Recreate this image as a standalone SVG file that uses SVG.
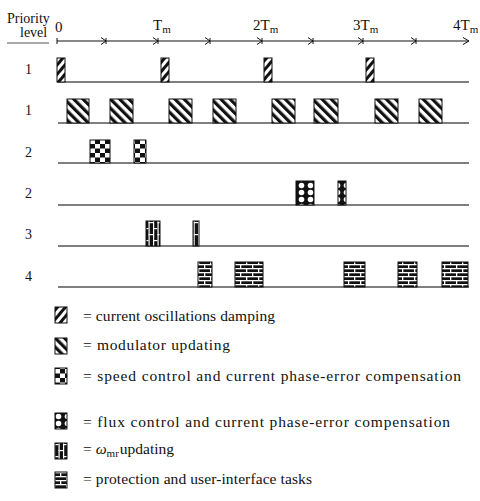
<svg xmlns="http://www.w3.org/2000/svg" width="480" height="501" viewBox="0 0 480 501">
<style>
text{font-family:"Liberation Serif","Times New Roman",serif;fill:#111}
.lbl{font-size:14px}
.leg{font-size:15.5px}
.ax{font-size:15px}
.sub{font-size:11px}
.base{stroke:#555;stroke-width:1.3;fill:none}
.tick{stroke:#111;stroke-width:1;fill:none}
.bar{stroke:#111;stroke-width:1}
</style>
<defs>
<pattern id="pDamp" patternUnits="userSpaceOnUse" width="6" height="6" patternTransform="rotate(40)">
<rect width="6" height="6" fill="#fff"/><rect width="3" height="6" fill="#111"/>
</pattern>
<pattern id="pMod" patternUnits="userSpaceOnUse" width="6.5" height="6.5" patternTransform="rotate(-45)">
<rect width="6.5" height="6.5" fill="#fff"/><rect width="3.2" height="6.5" fill="#111"/>
</pattern>
<pattern id="pSpeed" patternUnits="userSpaceOnUse" width="10" height="9">
<rect width="10" height="9" fill="#fff"/><rect width="5" height="4.5" fill="#111"/><rect x="5" y="4.5" width="5" height="4.5" fill="#111"/>
</pattern>
<pattern id="pFlux" patternUnits="userSpaceOnUse" width="9" height="7">
<rect width="9" height="7" fill="#111"/><circle cx="4.5" cy="3.5" r="2.8" fill="#fff"/>
</pattern>
<pattern id="pOmega" patternUnits="userSpaceOnUse" width="9" height="12">
<rect width="9" height="12" fill="#111"/>
<rect x="0" y="0" width="1.2" height="12" fill="#fff"/><rect x="4.5" y="0" width="1.2" height="12" fill="#fff"/>
<rect x="0" y="0" width="4.5" height="1.2" fill="#fff"/><rect x="4.5" y="6" width="4.5" height="1.2" fill="#fff"/>
</pattern>
<pattern id="pProt" patternUnits="userSpaceOnUse" width="12" height="8">
<rect width="12" height="8" fill="#111"/>
<rect x="0" y="0" width="12" height="1.3" fill="#fff"/><rect x="0" y="4" width="12" height="1.3" fill="#fff"/>
<rect x="0" y="0" width="1.3" height="4" fill="#fff"/><rect x="6" y="4" width="1.3" height="4" fill="#fff"/>
</pattern>
</defs>

<g id="header">
<text class="lbl" x="7" y="23">Priority</text>
<text class="lbl" x="20" y="37">level</text>
<line x1="7" y1="43" x2="49" y2="43" stroke="#555" stroke-width="1"/>
</g>

<g id="axis">
<line x1="57" y1="41" x2="469" y2="41" class="tick"/>
<line x1="57" y1="38" x2="57" y2="44" class="tick"/>
<g class="tick">
<path d="M101,37.5 L106,41 L101,44.5 M106,38 V44"/>
<path d="M153,37.5 L158,41 L153,44.5 M158,38 V44"/>
<path d="M205,37.5 L210,41 L205,44.5 M210,38 V44"/>
<path d="M257,37.5 L262,41 L257,44.5 M262,38 V44"/>
<path d="M308,37.5 L313,41 L308,44.5 M313,38 V44"/>
<path d="M358,37.5 L363,41 L358,44.5 M363,38 V44"/>
<path d="M411,37.5 L416,41 L411,44.5 M416,38 V44"/>
<path d="M463,37.5 L469,41 L463,44.5"/>
</g>
<text class="ax" x="55" y="32">0</text>
<text class="ax" x="153" y="30">T<tspan class="sub" dy="3">m</tspan></text>
<text class="ax" x="253" y="30">2T<tspan class="sub" dy="3">m</tspan></text>
<text class="ax" x="353" y="30">3T<tspan class="sub" dy="3">m</tspan></text>
<text class="ax" x="453" y="30">4T<tspan class="sub" dy="3">m</tspan></text>
</g>

<g id="row1">
<text class="lbl" x="25" y="74">1</text>
<line class="base" x1="57" y1="82" x2="469" y2="82"/>
<g fill="url(#pDamp)" class="bar">
<rect x="57" y="58" width="8" height="24"/>
<rect x="161" y="58" width="8" height="24"/>
<rect x="264" y="58" width="8" height="24"/>
<rect x="366" y="58" width="8" height="24"/>
</g>
</g>

<g id="row2">
<text class="lbl" x="25" y="115">1</text>
<line class="base" x1="58" y1="123" x2="469" y2="123"/>
<g fill="url(#pMod)" class="bar">
<rect x="67" y="99" width="22" height="24"/>
<rect x="110" y="99" width="23" height="24"/>
<rect x="169" y="99" width="23" height="24"/>
<rect x="213" y="99" width="23" height="24"/>
<rect x="272" y="99" width="23" height="24"/>
<rect x="314" y="99" width="24" height="24"/>
<rect x="375" y="99" width="23" height="24"/>
<rect x="419" y="99" width="23" height="24"/>
</g>
</g>

<g id="row3">
<text class="lbl" x="25" y="157">2</text>
<line class="base" x1="58" y1="163" x2="469" y2="163"/>
<g fill="url(#pSpeed)" class="bar">
<rect x="90" y="140" width="20" height="23"/>
<rect x="134" y="140" width="12" height="23"/>
</g>
</g>

<g id="row4">
<text class="lbl" x="25" y="198">2</text>
<line class="base" x1="58" y1="205" x2="469" y2="205"/>
<g fill="url(#pFlux)" class="bar">
<rect x="296" y="181" width="18" height="24"/>
<rect x="338" y="181" width="8" height="24"/>
</g>
</g>

<g id="row5">
<text class="lbl" x="25" y="239">3</text>
<line class="base" x1="58" y1="246" x2="469" y2="246"/>
<g fill="url(#pOmega)" class="bar">
<rect x="146" y="221" width="14" height="25"/>
<rect x="193" y="221" width="6" height="25"/>
</g>
</g>

<g id="row6">
<text class="lbl" x="25" y="281">4</text>
<line class="base" x1="58" y1="287" x2="469" y2="287"/>
<g fill="url(#pProt)" class="bar">
<rect x="198" y="262" width="14" height="25"/>
<rect x="235" y="262" width="28" height="25"/>
<rect x="344" y="262" width="21" height="25"/>
<rect x="398" y="262" width="19" height="25"/>
<rect x="442" y="262" width="26" height="25"/>
</g>
</g>

<g id="legend">
<g id="leg1"><rect class="bar" x="55" y="307" width="12" height="16" fill="url(#pDamp)"/><text class="leg" x="83" y="321" textLength="192" lengthAdjust="spacing">= current oscillations damping</text></g>
<g id="leg2"><rect class="bar" x="55" y="338" width="12" height="16" fill="url(#pMod)"/><text class="leg" x="83" y="350" textLength="147" lengthAdjust="spacing">= modulator updating</text></g>
<g id="leg3"><rect class="bar" x="55" y="368" width="12" height="16" fill="url(#pSpeed)"/><text class="leg" x="83" y="381" textLength="378" lengthAdjust="spacing">= speed control and current phase-error compensation</text></g>
<g id="leg4"><rect class="bar" x="55" y="413" width="12" height="16" fill="url(#pFlux)"/><text class="leg" x="83" y="427" textLength="367" lengthAdjust="spacing">= flux control and current phase-error compensation</text></g>
<g id="leg5"><rect class="bar" x="55" y="443" width="12" height="16" fill="url(#pOmega)"/><text class="leg" x="83" y="454">= <tspan font-style="italic">ω</tspan><tspan class="sub" dy="3">mr</tspan><tspan dy="-3" dx="1">updating</tspan></text></g>
<g id="leg6"><rect class="bar" x="55" y="472" width="12" height="16" fill="url(#pProt)"/><text class="leg" x="83" y="484" textLength="229" lengthAdjust="spacing">= protection and user-interface tasks</text></g>
</g>
</svg>
